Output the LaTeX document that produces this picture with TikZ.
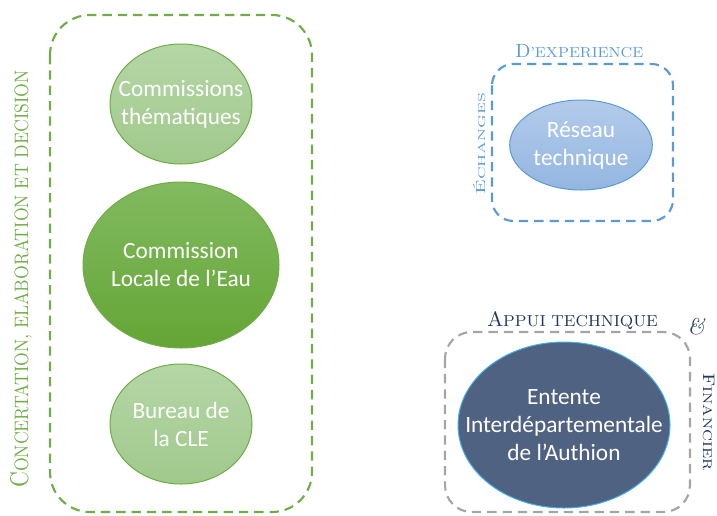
\documentclass[tikz,border=0pt]{standalone}
\usepackage{fontspec}
\usepackage{graphicx}
\usetikzlibrary{shapes.geometric}
\newfontfamily\bodyfont{Carlito}
\newcommand\fsc[2]{#1{\fontsize{7.6}{9}\selectfont #2}}
\definecolor{grn}{HTML}{70AD47}
\definecolor{grnL1}{HTML}{B5D6A6}
\definecolor{grnL2}{HTML}{A0C98C}
\definecolor{grnD1}{HTML}{82BA60}
\definecolor{grnD2}{HTML}{64A535}
\definecolor{blu}{HTML}{5B9BD5}
\definecolor{bluL1}{HTML}{B3CBEA}
\definecolor{bluL2}{HTML}{93B6E1}
\definecolor{navy}{HTML}{506282}
\definecolor{cyanb}{HTML}{41B0E8}
\definecolor{navytext}{HTML}{1F3864}
\definecolor{gry}{HTML}{A5A5A5}
\begin{document}
\begin{tikzpicture}[x=0.75pt,y=-0.75pt,
  oval/.style={ellipse, inner sep=0pt, draw=grn, line width=0.75pt},
  ovaltext/.style={inner sep=0pt, text=white, align=center,
    font=\bodyfont\fontsize{17.5}{21}\selectfont},
  dashbox/.style={dash pattern=on 7pt off 4.5pt, line width=1.6pt},
  label/.style={inner sep=0pt}]
\useasboundingbox (0,0) rectangle (717,515);
% green group
\draw[dashbox, grn, rounded corners=30pt] (50,15) rectangle (312,512);
\node[oval, minimum width=106.5pt, minimum height=90pt,
  top color=grnL1, bottom color=grnL2] (ct) at (181,104) {};
\node[ovaltext] (ctt) at (ct) {Commissions\\thématiques};
\node[oval, minimum width=147pt, minimum height=124.5pt,
  top color=grnD1, bottom color=grnD2] (cle) at (181,265) {};
\node[ovaltext] (clet) at (cle) {Commission\\Locale de l’Eau};
\node[oval, minimum width=106.5pt, minimum height=90pt,
  top color=grnL1, bottom color=grnL2] (bur) at (181,424) {};
\node[ovaltext] (burt) at (bur) {Bureau de\\la CLE};
\node[label, rotate=90, anchor=base west, text=grn] (lg) at (28,488)
  {\resizebox{313pt}{13.5pt}{\fsc{C}{ONCERTATION, ELABORATION ET DECISION}}};
% blue group
\draw[dashbox, blu, rounded corners=16pt] (492,64) rectangle (673,221);
\node[oval, draw=blu, minimum width=107pt, minimum height=67.5pt,
  top color=bluL1, bottom color=bluL2] (rt) at (581,145) {};
\node[ovaltext] (rtt) at (rt) {Réseau\\technique};
\node[label, anchor=base west, text=blu] (lx) at (515,57)
  {\resizebox{96pt}{9.75pt}{\fsc{D}{’EXPERIENCE}}};
\node[label, rotate=90, anchor=base west, text=blu] (le) at (485,195)
  {\resizebox{76.5pt}{9pt}{\fsc{É}{CHANGES}}};
% grey group
\draw[dashbox, gry, rounded corners=20pt] (445,332) rectangle (690,512);
\node[oval, draw=cyanb, fill=navy, minimum width=159pt, minimum height=124.5pt]
  (eia) at (564,425) {};
\node[ovaltext] (eiat) at (eia) {Entente\\Interdépartementale\\de l’Authion};
\node[label, anchor=base west, text=navytext] (la) at (487,326)
  {\resizebox{128pt}{11.25pt}{\fsc{A}{PPUI TECHNIQUE}}};
\node[label, text=navytext, font=\fontsize{17}{17}\selectfont\itshape] (amp) at (696,327) {\&};
\node[label, rotate=-90, anchor=base west, text=navytext] (lf) at (703,373)
  {\resizebox{73pt}{8.5pt}{\fsc{F}{INANCIER}}};
\end{tikzpicture}
\end{document}
